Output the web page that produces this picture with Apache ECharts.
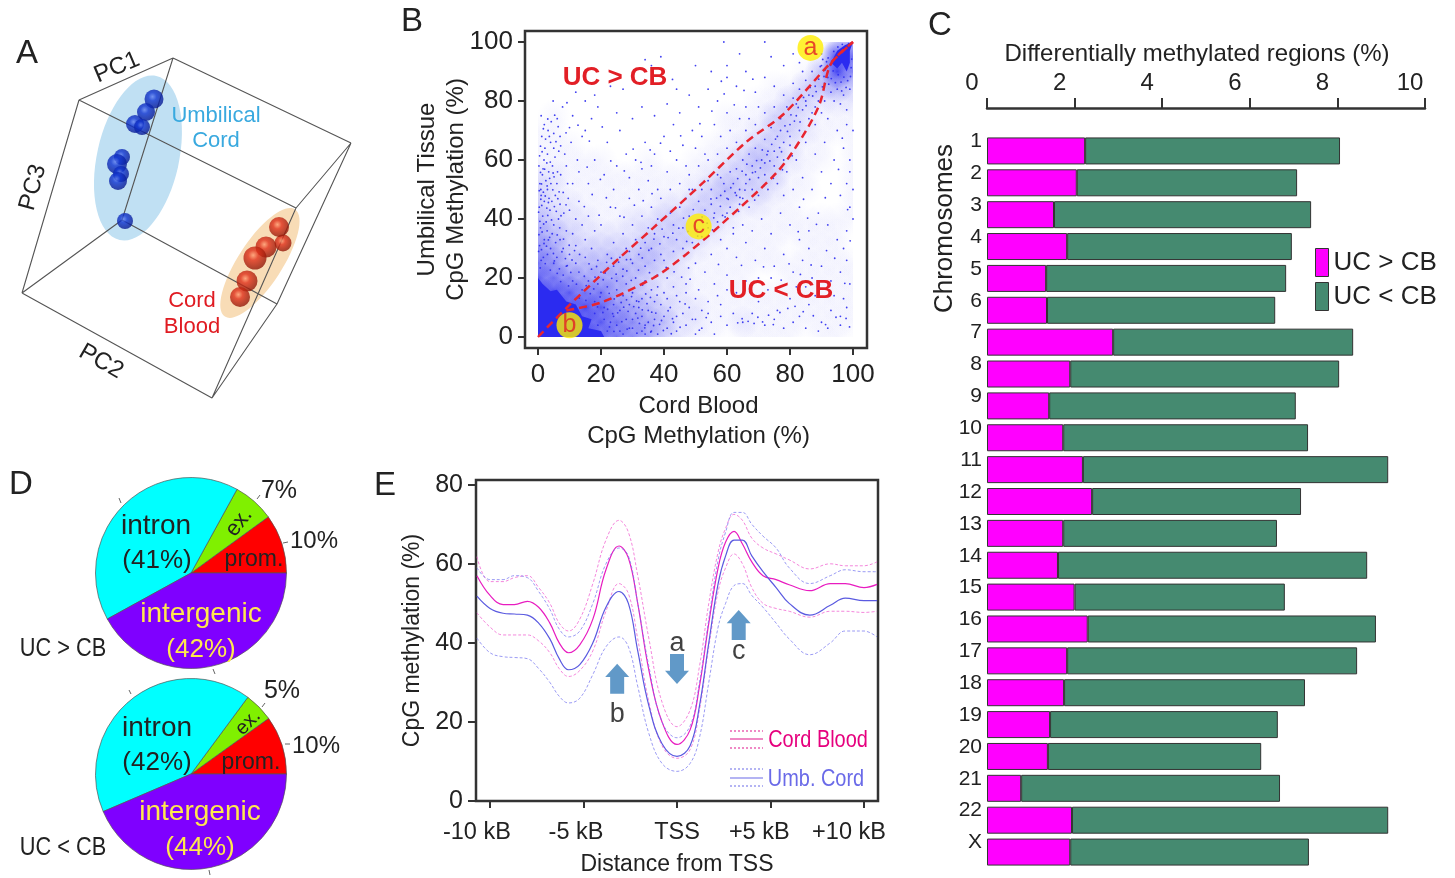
<!DOCTYPE html>
<html><head><meta charset="utf-8">
<style>html,body{margin:0;padding:0;background:#fff}#c{width:1455px;height:878px}</style>
<script src="https://cdn.jsdelivr.net/npm/echarts@6/dist/echarts.min.js"></script>
</head><body><div id="c"></div>
<script>
// ---------- Panel A
const boxEdges = [[173,58],[79,100],null,[173,58],[351,143],null,[79,100],[296,208],null,[173,58],[122,220],null,[79,100],[22,293],null,[22,293],[122,220],null,[122,220],[277,304],null,[22,293],[212,398],null,[277,304],[212,398],null,[351,143],[277,304],null,[296,208],[212,398],null,[351,143],[296,208]];
const umbilicalPoints = [[154,99,19],[146,112,18],[135,124,18],[142,127,16],[122,157,16],[117,164,20],[121,174,16],[118,181,18],[125,221,16]];
const cordBloodPoints = [[283,243,17],[279,227,20],[266,247,21],[255,258,23],[247,281,21],[240,297,20]];
// ---------- Panel B
const upperGuide = [[0,0],[9.2,10],[24,25],[36.6,37],[52.5,52.4],[66,66],[78,75.6],[92.6,92.6],[100,100]];
const lowerGuide = [[9,9],[20,11.7],[36.6,20],[47,28],[58,38],[76,56],[84,68],[89.4,79],[93,92.6],[100,100]];
const clusterMarks = [['a',86.5,98],['b',10,4],['c',51,37.5]];
const densityRows = [
[0,0,0,0,0,0,0,0,0,0,0,0,0,0,0,0,0,0,0,3,5],
[0,0,0,0,0,0,0,0,0,0,0,0,0,0,0,0,0,0,1,9,7],
[0,0,0,0,0,0,0,0,0,0,0,0,0,0,0,0,0,1,4,9,6],
[0,0,0,0,0,0,0,0,0,0,0,0,0,0,0,1,1,3,4,5,3],
[0,0,0,0,0,0,0,0,0,0,0,0,0,0,1,1,3,3,2,2,2],
[0,1,0,0,0,0,0,0,0,0,0,0,1,1,1,3,3,2,1,1,1],
[1,1,0,0,0,0,0,0,0,0,0,0,1,1,2,3,3,2,1,1,1],
[1,1,1,0,0,0,0,0,0,0,0,1,1,2,3,3,2,1,1,0,1],
[1,1,1,1,1,0,0,1,0,0,1,1,2,3,4,3,2,1,1,0,1],
[2,2,1,1,1,1,1,1,1,1,1,2,3,3,3,3,1,1,0,0,1],
[3,2,1,1,1,1,1,1,1,1,2,3,4,3,3,2,1,1,0,0,1],
[3,2,2,1,1,1,1,1,2,2,3,3,3,2,2,1,1,0,0,0,1],
[4,3,2,2,1,1,2,2,3,3,3,3,2,1,1,1,1,1,1,1,1],
[5,4,3,2,2,2,2,3,3,3,3,2,1,1,1,1,1,1,1,1,0],
[6,5,3,3,3,3,3,4,3,3,2,1,1,1,1,1,0,1,1,1,0],
[7,6,4,4,4,4,4,4,3,2,1,1,1,1,1,1,1,1,1,1,1],
[8,7,6,5,5,5,4,3,2,2,1,1,1,1,0,0,1,1,1,1,1],
[9,9,8,7,7,5,4,3,2,2,1,1,1,1,1,1,1,1,1,1,1],
[9,9,9,9,8,6,5,4,3,2,2,1,1,1,1,1,1,1,1,1,1],
[9,9,9,9,8,7,6,5,4,2,2,1,1,2,1,1,1,1,1,1,1],
[9,9,9,9,8,7,6,5,3,2,1,1,0,1,1,1,1,0,1,1,0]];
const saturatedLow = [[0,0],[0,20],[1.5,18],[4,15.5],[6,16],[9,12],[12,11],[14,7],[17,6],[16,3],[20,2],[21,0]];
const saturatedHigh = [[93,93],[95,91],[96.5,93],[98,90],[99,93],[99,97],[100,100],[97.5,99],[95,97]];
const dotsLeft = [[1,26],[3,28],[0.5,31],[6,27],[8,30],[2,33],[4.5,35],[7,33],[10,28],[12,31],[0.8,37],[2.6,39],[5,38],[9,36],[11,35],[1.5,41],[3.8,43],[6.5,40],[8.2,42],[0.4,44],[2,46],[4.4,46],[7,45],[10,43],[12,40],[1,48],[3,50],[5.5,48],[0.6,52],[2.5,53],[4.1,52],[1.4,55],[3.4,56],[6,52],[8,49],[9.6,47],[0.3,58],[1.9,60],[4.6,58],[3,62],[5.4,61],[7.2,55],[2.2,64],[4,66],[6.6,63],[1.2,68],[3.2,70],[5,69],[2,72],[4.2,73],[6.1,74],[1,75],[7,68],[9,58],[11,52],[13,46],[8.5,62],[10.5,66],[14,38],[15,33],[16,41],[13.2,28],[17,30],[18,36],[0.2,29],[1.7,27],[4,30],[5.6,32],[2.9,36],[6.9,37],[3.5,47],[0.9,50],[1.6,57],[2.8,59],[6.2,56],[5,64],[3.6,68],[9.4,52],[12.5,60],[10,71],[7.8,78],[4.8,80],[12,83],[15,80],[18,82],[11,75],[14,68],
[0.7,23.4],[2.3,24.9],[3.9,22.7],[5.2,25.8],[6.8,23.1],[8.7,26.6],[1.1,29.6],[2.7,30.8],[3.3,32.9],[4.9,28.3],[7.6,28.9],[9.3,24.2],[10.8,26.1],[0.3,34.7],[1.3,35.6],[1.9,31.7],[3.7,33.8],[6.1,34.6],[8.1,33.2],[9.9,31.1],[11.6,29.3],[0.6,39.2],[1.8,38.3],[3.1,41.2],[4.3,39.7],[5.8,42.6],[7.3,41.1],[0.2,42.3],[1.2,44.6],[2.8,43.7],[3.3,45.6],[5.2,44.2],[6.3,46.9],[8.9,44.8],[0.9,46.7],[1.7,49.1],[2.3,47.8],[4.7,49.9],[6.7,49.2],[0.4,49.6],[1.1,51.9],[2.9,51.2],[3.7,53.8],[5.1,54.3],[0.8,55.8],[2.1,56.9],[4.8,55.6],[0.5,61.4],[1.3,62.8],[3.9,59.3],[2.4,67.1],[5.7,66.2],[0.8,64.7],[1.7,70.6],[6.4,71.3],[8.9,69.2],[3.1,73.9],[5.3,75.2],[7.2,64.8]];
const dotsLow = [[22,2],[25,4],[27,1],[30,3],[33,2],[35,5],[38,1],[41,3],[44,2],[47,4],[50,1],[24,7],[28,6],[31,8],[34,4],[37,6],[40,7],[43,5],[46,8],[49,6],[52,3],[55,5],[21,10],[26,9],[29,11],[32,10],[35,9],[39,11],[42,10],[45,12],[48,10],[52,9],[18,12],[20,15],[23,13],[27,14],[30,15],[33,13],[36,16],[40,15],[43,17],[47,15],[14,16],[16,19],[19,18],[22,17],[25,19],[28,18],[31,20],[34,19],[38,21],[41,20],[8,21],[11,19],[13,22],[17,23],[20,22],[24,24],[27,23],[30,25],[34,24],[37,26],[5,25],[9,24],[12,25],[15,27],[19,26],[22,28],[26,27],[29,29],[32,28],[36,30],[39,28],[33,7],[29,3],[36,2],[32,12],[24,11],[37,12],[34,1],[44,7],[23,5],[26,2],[30,6],[41,13],[38,17],[18,8],[21,6],[19,4],[25,16],[44,14],[50,13],[56,1],[58,7],[54,12],[60,4],
[19.3,1.2],[22.7,3.4],[24.1,1.9],[26.6,5.2],[28.3,2.7],[31.4,1.3],[32.2,4.6],[33.9,3.1],[35.8,1.7],[36.7,3.9],[37.4,8.1],[38.6,4.3],[39.8,2.2],[42.3,1.1],[42.7,6.2],[45.1,3.3],[20.6,8.3],[22.1,9.4],[23.7,7.9],[25.3,8.2],[27.2,10.1],[28.6,8.7],[30.4,10.3],[31.7,6.4],[33.1,9.2],[34.6,11.3],[36.1,8.4],[18.9,10.2],[19.7,13.6],[21.4,12.3],[22.6,14.8],[24.2,12.9],[25.8,14.1],[26.4,11.7],[28.1,12.6],[29.7,13.7],[31.3,12.2],[34.2,14.6],[35.7,13.4],[13.1,13.2],[15.2,12.4],[16.6,14.7],[17.7,16.3],[15.3,17.4],[12.2,17.9],[18.1,20.3],[20.7,19.4],[21.3,21.7],[23.4,19.9],[24.8,21.3],[26.9,20.6],[28.2,22.4],[29.6,19.2],[31.9,22.7],[33.2,17.6],[35.4,21.8],[9.7,17.3],[10.4,21.9],[7.2,18.8],[6.1,21.6],[14.7,20.6],[16.2,24.8],[18.6,23.9],[21.8,25.3],[23.3,26.7],[25.6,25.4],[28.1,26.2],[33.1,26.8],[40.7,23.6],[43.2,22.1],[45.6,20.3],[47.8,23.4],[48.3,19.6],[51.2,2.3],[53.4,6.6],[46.7,11.2],[39.2,5.6],[41.3,8.9],[37.8,14.2]];
const dotsBand = [[28,30],[31,33],[34,32],[37,35],[40,34],[43,38],[46,37],[44,33],[48,41],[50,39],[53,43],[51,46],[55,45],[58,48],[56,42],[60,47],[62,52],[59,52],[64,50],[66,55],[63,57],[68,58],[70,54],[71,60],[67,62],[73,63],[75,58],[72,67],[76,68],[78,66],[74,71],[80,72],[77,74],[82,75],[79,78],[84,77],[81,81],[86,82],[83,84],[88,85],[85,87],[89,80],[91,86],[87,90],[90,92],[92,88],[38,40],[35,37],[42,42],[45,44],[47,47],[49,50],[52,50],[54,53],[57,55],[61,56],[65,60],[69,64],[61,44],[65,47],[68,50],[72,55],[76,61],[78,60],[80,65],[83,70],[86,74],[88,78],[57,39],[54,37],[52,34],[49,32],[46,30],[43,29],[40,26],[55,50],[58,54],[63,48],[66,52],[69,56],[72,59],[75,63],[77,70],[80,68],[82,79],[85,80],[87,76],[24,32],[27,35],[30,38],[33,41],[36,44],[39,47],[42,50],[45,52],[48,55],[51,58],[54,60],[57,62],[60,64],[63,66],[66,70],[69,72],[72,76],[75,78],[78,82],[81,86],[84,90],[60,42],[64,45],[62,37],[67,44],[70,48],[73,50],[76,52],[79,56],[82,60],[85,66],[88,72],[90,76],[91,80],[93,83],[95,84],[97,82],[96,79],[99,84],[98,77],[94,80],
[29.4,26.3],[32.6,30.1],[35.2,29.4],[36.8,33.2],[38.7,31.6],[41.3,33.7],[39.4,36.6],[42.8,35.2],[44.7,36.9],[46.2,40.3],[47.6,35.8],[49.3,43.2],[50.6,36.4],[52.1,40.7],[53.7,38.6],[54.9,46.8],[55.8,40.4],[56.7,47.1],[57.9,44.3],[58.6,41.2],[59.3,49.4],[60.4,46.7],[61.2,50.6],[62.6,48.9],[63.4,53.7],[64.1,47.3],[64.8,56.2],[65.7,49.8],[66.3,58.6],[67.2,53.4],[68.1,55.7],[69.4,59.8],[70.6,57.3],[71.2,63.4],[72.7,61.8],[73.6,59.7],[74.2,65.3],[75.4,67.1],[76.7,64.2],[77.3,62.8],[78.4,71.6],[79.2,69.7],[80.3,75.3],[81.4,73.2],[82.6,77.8],[83.2,72.9],[84.3,81.2],[85.1,78.4],[86.4,84.6],[87.2,81.7],[88.3,83.2],[89.1,87.4],[90.3,84.8],[91.2,90.6],[90.8,88.3],[92.3,85.7],[93.1,87.6],[93.7,90.2],[94.4,86.2],[95.3,88.9],[96.2,86.4],[97.1,88.1],[98.3,86.9],[99.2,88.3],[97.8,84.6],[96.4,83.4],[94.6,94.2],[92.8,92.1],[92.1,94.6],[93.9,96.8],[95.2,98.3],[96.6,99.2],[98.6,99.4],[99.6,94.2],[99.4,91.3],[94.2,92.6],[91.6,93.3],[89.6,91.7],[90.4,94.1],[47.2,32.4],[50.7,34.2],[55.4,36.3],[59.4,40.7],[63.7,42.6],[68.8,46.4],[71.7,51.3],[74.7,53.8],[77.6,56.7],[80.7,61.4]];
const dotsUpper = [[20,38],[23,44],[26,41],[29,47],[32,50],[35,53],[21,55],[25,58],[28,62],[31,60],[34,66],[37,62],[40,68],[43,72],[46,65],[49,70],[16,52],[18,60],[22,66],[26,70],[30,74],[33,78],[37,75],[41,79],[45,76],[48,82],[51,78],[54,84],[57,80],[60,88],[63,85],[66,90],[69,83],[72,88],[75,85],[60,92],[55,90],[50,92],[64,96],[59,100],[72,100],[74,95],[81,96],[78,92],[83,93],[40,90],[44,84],[36,92],[39,95],[34,94],[30,88],[27,84],[23,85],[19,78],[15,70],[17,74],[25,76],[52,68],[56,72],[60,76],[64,74],[66,78],[70,78],[58,68],[53,62],[47,58],[41,56],[38,50],[44,60],[50,64],[61,70],[67,74],[90,96],[88,97],[48,50],[13,56],[24,50],[29,54],[33,57],[42,63],[36,58],
[19.4,41.3],[21.7,47.2],[24.6,43.8],[27.3,40.6],[30.6,44.7],[33.4,46.2],[36.2,48.6],[14.7,44.2],[17.2,48.3],[15.6,57.6],[19.8,53.4],[23.1,59.7],[27.4,56.3],[30.2,63.7],[32.7,59.2],[35.6,63.4],[38.9,65.7],[45.3,68.2],[51.4,72.3],[55.2,76.6],[59.1,82.4],[62.3,78.7],[65.4,83.6],[68.2,87.4],[58.2,86.7],[12.7,71.8],[16.3,66.4],[20.4,71.2],[9.2,79.4],[42.7,87.3]];
const dotsLower = [[50,25],[53,22],[56,18],[60,21],[63,15],[66,19],[70,12],[73,16],[76,9],[80,13],[83,7],[86,11],[90,5],[93,9],[96,4],[58,11],[62,8],[65,5],[68,8],[72,4],[75,6],[78,3],[81,5],[85,3],[89,2],[92,3],[96,7],[98,10],[60,30],[63,27],[66,32],[69,26],[72,30],[75,24],[78,28],[81,22],[84,26],[87,20],[90,24],[93,19],[96,22],[98,26],[99,18],[65,38],[68,36],[71,40],[74,35],[77,42],[80,38],[83,44],[86,36],[89,42],[92,38],[95,33],[98,36],[99,44],[78,48],[81,50],[84,54],[87,50],[90,56],[93,52],[96,48],[98,52],[99,60],[88,62],[91,66],[94,60],[97,64],[99,56],[95,70],[98,72],[92,74],[100,50],[100,40],[100,70],[97,30],[83,33],[86,30],[94,14],[97,13],[55,28],[58,33],[62,35],[70,20],[74,20],[82,17],[85,17],[88,14],[54,8],[50,6],[47,18],[51,16],[57,14],[60,16],
[63.4,4.8],[64.8,6.2],[66.7,5.3],[68.6,4.6],[69.8,6.7],[71.3,5.1],[73.2,7.4],[74.7,4.2],[76.8,8.3],[79.3,9.7],[81.6,10.4],[84.2,8.6],[87.4,7.2],[91.3,4.2],[94.6,6.7],[97.8,6.3],[98.9,3.4],[57.3,24.6],[61.8,18.7],[64.6,24.3],[67.2,15.4],[71.6,23.8],[77.2,19.3],[79.7,24.8],[83.3,21.2],[86.7,24.4],[91.6,29.3],[94.2,26.7],[82.6,35.7],[85.6,40.3],[88.4,38.2],[84.3,46.7],[91.2,47.2],[95.4,56.8],[96.6,67.4],[98.3,43.2],[99.1,32.6],[97.4,18.2]];
const scatterPoints = dotsLeft.concat(dotsLow, dotsBand, dotsUpper, dotsLower);
// ---------- Panel C
const chromosomes = ['1','2','3','4','5','6','7','8','9','10','11','12','13','14','15','16','17','18','19','20','21','22','X'];
const ucGreater = [2.24,2.05,1.53,1.83,1.35,1.37,2.88,1.9,1.42,1.74,2.19,2.4,1.74,1.62,2.0,2.3,1.83,1.76,1.44,1.39,0.78,1.94,1.9];
const ucLess = [5.82,5.03,5.87,5.13,5.48,5.21,5.48,6.14,5.63,5.59,6.97,4.77,4.88,7.06,4.8,6.58,6.62,5.5,5.2,4.87,5.91,7.22,5.45];
// ---------- Panel D
const pieNames = ['prom.','ex.','intron','intergenic'];
const pieColors = ['#ff0000','#80f000','#00ffff','#7f00ff'];
const pieUpper = [10,7,41,42];
const pieLower = [10,5,42,44];
// ---------- Panel E
const xs = [-10.7,-10,-9.3,-8.7,-8,-7.4,-6.8,-6.3,-5.8,-5.2,-4.5,-3.8,-3.1,-2.6,-2.1,-1.5,-0.8,0,0.7,1.2,1.7,2.2,2.6,3.05,3.5,4,4.6,5.3,6,7.1,8.2,9,10,10.7];
const cbMean = [57,52,49.7,49.7,50.5,49,45,40,37.5,39.5,46,58.5,64.5,61.5,50,33,20,14.3,18,29,45,59,65.5,68.2,65,60.5,57,56,54.7,53.2,55,55,54,54.8];
const cbUpper = [61.8,55.5,55.5,56.5,57,54,50,45,43,46,55,66,71,68,57,41,25,18.8,23,34,50,63,69,72.5,71,66.5,64,62.5,61,58.7,60,59.5,59.5,60.5];
const cbLower = [47.6,44,42,42,42,40.5,37.5,33.5,31.5,33,38,48,55,52.5,41,25,14,10.8,13,23,39,53,59,62.5,60,54,50,48.7,48,46.5,48,48,47.7,48];
const ucMean = [51.8,48.7,47.5,47.3,47,45,41,36,33.2,34.5,40,49,53,50,38,24,14.5,11.3,14,24,40,55,62,66,66,62,58,54,50,47,49.5,51.3,50.7,50.7];
const ucUpper = [59,56,56,57,56.5,53,48.5,43.5,41.5,43,50,60,64,62,50,34,20,16,19,30,46,61,68,73,73,70,67,64,59,55,57,58.5,58,58];
const ucLower = [41.2,37.5,36.5,36.3,36,33.5,30,26.5,24.8,26,32,39,41.5,39,29,17,9.5,7.5,9.5,16,30,44,50,54.5,55,52,49,45,41,37,40,43,43,41.5];
const eTicks = [-10,-5,0,5,10];
const eLabelSpots = [-10.7,-5.4,0,4.4,9.2];
const eLabelNames = ['-10 kB','-5 kB','TSS','+5 kB','+10 kB'];
const arrows = [['b',-3.2,30.9,'up',7],['a',0,33.4,'down',-3],['c',3.3,44.5,'up',-2]];

const SANS = '"Liberation Sans", Arial, sans-serif';
const INK = '#222';
const zipX = a => a.map((v,i)=>[xs[i],v]);
const hidden = {show:false};
function sphere(inner,mid,outer){return {type:'radial',x:0.42,y:0.38,r:0.62,colorStops:[{offset:0,color:inner},{offset:0.35,color:mid},{offset:1,color:outer}]};}
function txt(text,x,y,size,opt){opt=opt||{};return {type:'text',x:x,y:y+1.5,rotation:opt.rot||0,scaleX:opt.sx||1,z:opt.z||50,style:{text:text,fill:opt.fill||INK,font:(opt.weight?opt.weight+' ':'')+size+'px '+SANS,textAlign:opt.align||'center',textVerticalAlign:'middle'}};}
function ln(x1,y1,x2,y2,c,w,dash){return {type:'line',z:50,shape:{x1,y1,x2,y2},style:{stroke:c,lineWidth:w,lineDash:dash||null}};}
function tick(x1,y1,x2,y2){return ln(x1,y1,x2,y2,'#666',1);}

const graphics = [
 {type:'ellipse',z:-5,x:138,y:158,rotation:-0.22,shape:{cx:0,cy:0,rx:41,ry:84},style:{fill:'#c0e0f3'}},
 {type:'ellipse',z:-5,x:260,y:263,rotation:-0.58,shape:{cx:0,cy:0,rx:22,ry:64},style:{fill:'#f8dcb6'}},
 txt('A',27,52,33),txt('B',412,20,33),txt('C',940,24,33),txt('D',21,483,33),txt('E',385,484,33),
 txt('PC1',117,66,24,{rot:0.4}),txt('PC3',33,186,24,{rot:1.3}),txt('PC2',101,360,24,{rot:-0.52}),
 txt('Umbilical',216,114,22,{fill:'#39a9df'}),txt('Cord',216,139,22,{fill:'#39a9df'}),
 txt('Cord',192,299,22,{fill:'#e01b22'}),txt('Blood',192,325,22,{fill:'#e01b22'}),
 {type:'rect',z:1,shape:{x:525,y:31,width:342,height:317},style:{fill:'none',stroke:'#333',lineWidth:2.5}},
 txt('UC > CB',615,76,26,{fill:'#e21f26',weight:'bold'}),txt('UC < CB',781,289,26,{fill:'#e21f26',weight:'bold'}),
 txt('Chromosomes',945,227,26,{rot:Math.PI/2}),
 txt('intron',156,525,28),txt('(41%)',157,559,26),{...txt('ex.',239,521,22,{rot:0.9})},txt('prom.',254,558,23),
 txt('intergenic',201,613,28,{fill:'#ffe84d'}),txt('(42%)',201,648,26,{fill:'#ffe84d'}),
 txt('7%',279,490,25),txt('10%',314,540,24),txt('UC > CB',63,648,25,{sx:0.87}),
 tick(121,503,119,498),tick(213,669,215,674),tick(257,499,260,495),tick(283,543,288,542),
 txt('intron',157,727,28),txt('(42%)',157,761,26),{...txt('ex.',248,721,20,{rot:0.8})},txt('prom.',251,761,23),
 txt('intergenic',200,811,28,{fill:'#ffe84d'}),txt('(44%)',200,846,26,{fill:'#ffe84d'}),
 txt('5%',282,690,25),txt('10%',316,745,24),txt('UC < CB',63,847,25,{sx:0.87}),
 tick(131,694,129,690),tick(209,870,210,875),tick(262,707,265,703),tick(285,744,290,744),
 ln(730,731,763,731,'#e0148c',1,[2,2]),ln(730,739,763,739,'#e0148c',1.2),ln(730,748,763,748,'#e0148c',1,[2,2]),
 txt('Cord Blood',818,739,24,{fill:'#e6007e',sx:0.83}),
 ln(730,769,763,769,'#6a6ae8',1,[2,2]),ln(730,778,763,778,'#6a6ae8',1.2),ln(730,786,763,786,'#6a6ae8',1,[2,2]),
 txt('Umb. Cord',816,778,24,{fill:'#6a6ae8',sx:0.83})
];
function polySeries(pts,xi,yi,z){return {type:'custom',name:'sat',xAxisIndex:xi,yAxisIndex:yi,coordinateSystem:'cartesian2d',z:z,clip:true,silent:true,data:[[0,0]],
  renderItem:(p,api)=>({type:'polygon',shape:{points:pts.map(q=>api.coord(q))},style:{fill:'#2b2bf0'}})};}
const densityData=[];densityRows.forEach((row,i)=>row.forEach((d,j)=>{if(d)densityData.push([j*5,100-i*5,d]);}));

const dashLine=(arr,c)=>({type:'line',xAxisIndex:2,yAxisIndex:2,data:zipX(arr),smooth:0.4,showSymbol:false,silent:true,lineStyle:{color:c,width:1,type:[3,2],opacity:0.75}});
const solidLine=(arr,c)=>({type:'line',xAxisIndex:2,yAxisIndex:2,data:zipX(arr),smooth:0.4,showSymbol:false,silent:true,lineStyle:{color:c,width:1.2}});
const arrowPath='path://M5,0 L19,0 L19,18 L24,18 L12,32 L0,18 L5,18 Z';

const option = {
 animation:false,backgroundColor:'#fff',textStyle:{fontFamily:SANS},
 graphic:graphics,
 legend:{show:true,data:['UC > CB','UC < CB'],orient:'vertical',left:1310,top:243,itemWidth:13,itemHeight:28,itemGap:5,icon:'rect',textStyle:{fontSize:26,color:INK,fontFamily:SANS},itemStyle:{borderColor:'#333',borderWidth:1}},
 grid:[
  {left:0,top:0,width:370,height:420,outerBoundsMode:'none'},
  {left:538,top:42,width:315,height:295,outerBoundsMode:'none'},
  {left:476,top:480,width:402,height:321,outerBoundsMode:'none',show:true,borderColor:'#333',borderWidth:2.5,backgroundColor:'transparent'},
  {left:987,top:135,width:438,height:733,outerBoundsMode:'none'}
 ],
 xAxis:[
  {gridIndex:0,type:'value',min:0,max:370,show:false},
  {gridIndex:1,type:'value',min:0,max:100,interval:20,offset:11,position:'bottom',axisLine:{show:false,onZero:false},axisTick:{show:true,length:7,lineStyle:{color:'#333',width:2}},splitLine:hidden,
   axisLabel:{fontSize:26,color:INK,margin:14,fontFamily:SANS},name:'Cord Blood\nCpG Methylation (%)',nameLocation:'middle',nameGap:41,nameTextStyle:{fontSize:24,color:INK,lineHeight:30,padding:[2,0,0,6],fontFamily:SANS}},
  {gridIndex:2,type:'value',min:-10.75,max:10.75,axisLine:{show:false,onZero:false},splitLine:hidden,
   axisTick:{show:true,length:7,customValues:eTicks,lineStyle:{color:'#333',width:2}},
   axisLabel:{customValues:eLabelSpots,fontSize:23.5,color:INK,margin:20,fontFamily:SANS,hideOverlap:false,showMinLabel:true,showMaxLabel:true,formatter:v=>eLabelNames[eLabelSpots.indexOf(v)]},
   name:'Distance from TSS',nameLocation:'middle',nameGap:52,nameTextStyle:{fontSize:23,color:INK,fontFamily:SANS}},
  {gridIndex:3,type:'value',min:0,max:10,interval:2,position:'top',offset:27,axisLine:{show:true,lineStyle:{color:'#333',width:2.5}},axisTick:{show:true,length:10,lineStyle:{color:'#333',width:2}},splitLine:hidden,
   axisLabel:{fontSize:24,color:INK,margin:13,padding:[0,30,0,0],fontFamily:SANS,showMaxLabel:true},name:'Differentially methylated regions (%)',nameLocation:'middle',nameGap:28,nameTextStyle:{fontSize:24,color:INK,padding:[0,18,0,0],fontFamily:SANS}}
 ],
 yAxis:[
  {gridIndex:0,type:'value',min:0,max:420,inverse:true,show:false},
  {gridIndex:1,type:'value',min:0,max:100,interval:20,offset:13,axisLine:{show:false,onZero:false},axisTick:{show:true,length:7,lineStyle:{color:'#333',width:2}},splitLine:hidden,
   axisLabel:{fontSize:26,color:INK,margin:12,padding:[5,0,0,0],fontFamily:SANS},name:'Umbilical Tissue\nCpG Methylation (%)',nameLocation:'middle',nameGap:54,nameMoveOverlap:false,nameTextStyle:{fontSize:24,color:INK,lineHeight:29,fontFamily:SANS}},
  {gridIndex:2,type:'value',min:0,max:81.2,axisLine:{show:false,onZero:false},splitLine:hidden,
   axisTick:{show:true,length:8,customValues:[0,20,40,60,80],lineStyle:{color:'#333',width:2}},
   axisLabel:{customValues:[0,20,40,60,80],fontSize:25,color:INK,margin:13,padding:[3,0,0,0],fontFamily:SANS},
   name:'CpG methylation (%)',nameLocation:'middle',nameGap:52,nameTextStyle:{fontSize:23,color:INK,fontFamily:SANS}},
  {gridIndex:3,type:'category',inverse:true,data:chromosomes,axisLine:{show:false},axisTick:{show:false},
   axisLabel:{fontSize:21,color:INK,margin:5,verticalAlign:'bottom',padding:[0,0,-1,0],interval:0,fontFamily:SANS}}
 ],
 series:[
  {type:'line',xAxisIndex:0,yAxisIndex:0,data:boxEdges,showSymbol:false,connectNulls:false,silent:true,z:1,lineStyle:{color:'#555',width:1.1}},
  {type:'scatter',xAxisIndex:0,yAxisIndex:0,data:umbilicalPoints,symbolSize:v=>v[2],silent:true,z:3,itemStyle:{color:sphere('#5f7ff0','#1034d0','#081a90')}},
  {type:'scatter',xAxisIndex:0,yAxisIndex:0,data:cordBloodPoints,symbolSize:v=>v[2],silent:true,z:3,itemStyle:{color:sphere('#ff9a70','#e0301a','#901808')}},

  {type:'custom',xAxisIndex:1,yAxisIndex:1,coordinateSystem:'cartesian2d',z:2,clip:true,silent:true,data:densityData,encode:{x:0,y:1},
   renderItem:(p,api)=>{const c=api.coord([api.value(0),api.value(1)]);const a=Math.pow(api.value(2)/9,1.4)*0.85;
     return {type:'circle',shape:{cx:c[0],cy:c[1],r:17},style:{fill:new echarts.graphic.RadialGradient(0.5,0.5,0.5,[{offset:0,color:'rgba(43,43,240,'+a+')'},{offset:1,color:'rgba(43,43,240,0)'}])}};}},
  polySeries(saturatedLow,1,1,3),polySeries(saturatedHigh,1,1,3),
  {type:'scatter',xAxisIndex:1,yAxisIndex:1,data:scatterPoints,symbolSize:1.8,silent:true,z:4,itemStyle:{color:'#2b2bf0',opacity:0.9}},
  {type:'line',xAxisIndex:1,yAxisIndex:1,data:upperGuide,smooth:0.3,showSymbol:false,silent:true,z:5,lineStyle:{color:'#e8252f',width:2.5,type:[8,5]}},
  {type:'line',xAxisIndex:1,yAxisIndex:1,data:lowerGuide,smooth:0.3,showSymbol:false,silent:true,z:5,lineStyle:{color:'#e8252f',width:2.5,type:[8,5]}},
  {type:'scatter',xAxisIndex:1,yAxisIndex:1,clip:false,z:6,silent:true,data:clusterMarks.map(m=>({name:m[0],value:[m[1],m[2]]})),symbolSize:26,itemStyle:{color:'#ffee00'},
   label:{show:true,position:'inside',formatter:'{b}',fontSize:25,color:'#e21f26',fontFamily:SANS}},

  {type:'pie',radius:[0,95.5],center:[191,573],startAngle:0,clockwise:false,silent:true,label:hidden,labelLine:hidden,itemStyle:{borderColor:'#555',borderWidth:0.7},
   data:pieNames.map((n,i)=>({name:n,value:pieUpper[i],itemStyle:{color:pieColors[i]}}))},
  {type:'pie',radius:[0,95.5],center:[191,774],startAngle:0,clockwise:false,silent:true,label:hidden,labelLine:hidden,itemStyle:{borderColor:'#555',borderWidth:0.7},
   data:pieNames.map((n,i)=>({name:n,value:pieLower[i],itemStyle:{color:pieColors[i]}}))},

  dashLine(cbUpper,'#f05fd0'),dashLine(cbLower,'#f05fd0'),solidLine(cbMean,'#e81cc0'),
  dashLine(ucUpper,'#7a7af0'),dashLine(ucLower,'#7a7af0'),solidLine(ucMean,'#5a5ae0'),
  {type:'scatter',xAxisIndex:2,yAxisIndex:2,silent:true,z:6,data:arrows.map(a=>({name:a[0],value:[a[1],a[2]],symbolRotate:a[3]==='up'?180:0,label:{show:true,formatter:'{b}',fontSize:27,color:'#111',distance:a[4],fontFamily:SANS,position:a[3]==='up'?'bottom':'top'}})),
   symbol:arrowPath,symbolSize:[24,30],itemStyle:{color:'#3a80ba'}},

  {type:'bar',name:'UC > CB',xAxisIndex:3,yAxisIndex:3,stack:'dmr',data:ucGreater,barWidth:27,silent:true,itemStyle:{color:'#ff00ff',borderColor:'#333',borderWidth:1}},
  {type:'bar',name:'UC < CB',xAxisIndex:3,yAxisIndex:3,stack:'dmr',data:ucLess,barWidth:27,silent:true,itemStyle:{color:'#458a70',borderColor:'#333',borderWidth:1}}
 ]
};
const chart = echarts.init(document.getElementById('c'),null,{renderer:'canvas'});
chart.setOption(option);
</script></body></html>
